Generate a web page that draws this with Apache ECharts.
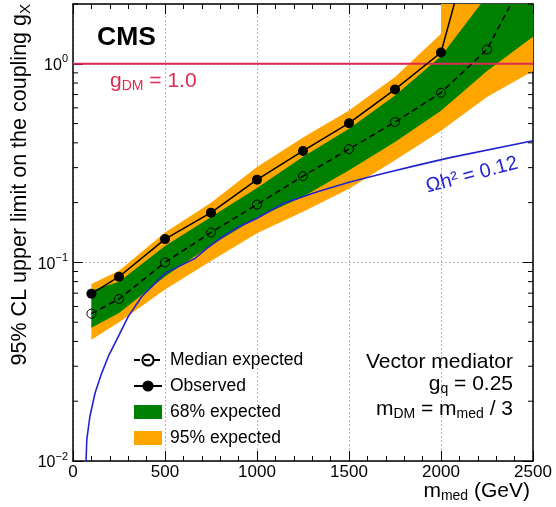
<!DOCTYPE html>
<html>
<head>
<meta charset="utf-8">
<script src="https://cdn.jsdelivr.net/npm/echarts@6/dist/echarts.min.js"></script>
<style>
  html, body { margin: 0; padding: 0; background: #fff; }
  #chart { width: 556px; height: 507px; }
</style>
</head>
<body>
<div id="chart"></div>
<script>
// ---------------- data ----------------
const massPoints      = [100, 250, 500, 750, 1000, 1250, 1500, 1750, 2000, 2250, 2500];
const medianExpected  = [0.0552, 0.0654, 0.100, 0.1415, 0.1955, 0.272, 0.372, 0.509, 0.715, 1.18, 3.25];
const observedMass    = [100, 250, 500, 750, 1000, 1250, 1500, 1750, 2000, 2250];
const observedLimit   = [0.0695, 0.0847, 0.131, 0.178, 0.261, 0.364, 0.502, 0.743, 1.14, 8.0];
const band68Up        = [0.0722, 0.080, 0.121, 0.1695, 0.237, 0.34, 0.471, 0.693, 1.09, 2.2, 4.5];
const band68Low       = [0.0469, 0.0556, 0.085, 0.122, 0.168, 0.214, 0.291, 0.404, 0.58, 0.92, 1.37];
const band95UpMass    = [100, 250, 500, 750, 1000, 1250, 1500, 1750, 2000, 2000, 2500];
const band95Up        = [0.0778, 0.0908, 0.1415, 0.1995, 0.302, 0.425, 0.582, 0.857, 1.415, 100, 100];
const band95Low       = [0.0408, 0.050, 0.0731, 0.1015, 0.14, 0.18, 0.235, 0.327, 0.46, 0.68, 0.92];
const relicMass       = [69, 75, 92, 120, 156, 192, 246, 300, 373, 428, 500, 536, 609, 663, 724, 815, 906, 996, 1143, 1324, 1505, 1686, 1868, 2049, 2500];
const relicCoupling   = [0.0090, 0.0128, 0.0168, 0.0220, 0.0277, 0.0336, 0.0423, 0.0533, 0.0671, 0.0754, 0.0881, 0.0915, 0.0989, 0.1047, 0.117, 0.135, 0.152, 0.166, 0.198, 0.226, 0.254, 0.280, 0.308, 0.337, 0.41];
const gDMValue        = 1.0;
const xTickValues     = [0, 500, 1000, 1500, 2000, 2500];
const yMinorTicks     = [0.02, 0.03, 0.04, 0.05, 0.06, 0.07, 0.08, 0.09, 0.2, 0.3, 0.4, 0.5, 0.6, 0.7, 0.8, 0.9, 2];

// ---------------- style ----------------
const FONT = 'Liberation Sans, Arial, Helvetica, sans-serif';
const C_GREEN = '#008000', C_ORANGE = '#ffa500', C_BLUE = '#2323d2', C_RED = '#de2a55';
const X_MIN = xTickValues[0], X_MAX = xTickValues[xTickValues.length - 1];
const Y_MIN = 0.01, Y_MAX = 2;

const zip = (xs, ys) => xs.map((x, i) => [x, ys[i]]);

function bandRender(upMass, up, lowMass, low, color) {
  return function (params, api) {
    const pts = [];
    for (let i = 0; i < upMass.length; i++) pts.push(api.coord([upMass[i], up[i]]));
    for (let i = lowMass.length - 1; i >= 0; i--) pts.push(api.coord([lowMass[i], low[i]]));
    return { type: 'polygon', shape: { points: pts }, style: { fill: color } };
  };
}

const xAxisBase = {
  type: 'value', min: X_MIN, max: X_MAX, interval: 500,
  axisLine: { show: true, onZero: false, lineStyle: { color: '#000', width: 1.5 } },
  axisTick: { show: true, inside: true, length: 10, lineStyle: { color: '#000', width: 1 } },
  minorTick: { show: true, splitNumber: 5, length: 5, lineStyle: { color: '#000', width: 1 } },
};
const yAxisBase = {
  type: 'log', logBase: 10, min: Y_MIN, max: Y_MAX,
  axisLine: { show: true, onZero: false, lineStyle: { color: '#000', width: 1.5 } },
  axisTick: { show: true, inside: true, length: 10, lineStyle: { color: '#000', width: 1 } },
};

const sub = (size, color) => ({
  a: { fontSize: size, fontFamily: FONT, fill: color, padding: [0, 0, 2, 0], verticalAlign: 'bottom' },
  s: { fontSize: Math.round(size * 0.68), fontFamily: FONT, fill: color, verticalAlign: 'bottom' },
});

const chart = echarts.init(document.getElementById('chart'), null, { renderer: 'canvas' });
chart.setOption({
  animation: false,
  backgroundColor: '#fff',
  grid: { left: 73, right: 23, top: 4, bottom: 46, containLabel: false },
  xAxis: [
    Object.assign({}, xAxisBase, {
      position: 'bottom',
      axisLabel: { show: true, fontSize: 17, color: '#000', fontFamily: FONT, margin: 3,
        formatter: function (v) { return String(v); } },
      splitLine: { show: true, lineStyle: { color: '#b8b8b8', type: [2, 2], width: 1 } },
    }),
    Object.assign({}, xAxisBase, {
      position: 'top',
      axisLabel: { show: false },
      splitLine: { show: false },
    }),
  ],
  yAxis: [
    Object.assign({}, yAxisBase, {
      position: 'left',
      axisLabel: {
        show: true, showMaxLabel: false, margin: 5, color: '#000',
        formatter: function (v) {
          const e = Math.round(Math.log10(v));
          return '{b|10}{s|' + (e < 0 ? '\u2212' + (-e) : String(e)) + '}';
        },
        rich: {
          b: { fontSize: 16, fontFamily: FONT, color: '#000', padding: [4, 0, 0, 0], verticalAlign: 'bottom' },
          s: { fontSize: 11, fontFamily: FONT, color: '#000', verticalAlign: 'top' },
        },
      },
      splitLine: { show: true, lineStyle: { color: '#b8b8b8', type: [2, 2], width: 1 } },
    }),
    Object.assign({}, yAxisBase, {
      position: 'right',
      axisLabel: { show: false },
      splitLine: { show: false },
    }),
  ],
  legend: {
    data: [
      { name: 'Median expected' },
      { name: 'Observed' },
      { name: '68% expected', icon: 'rect' },
      { name: '95% expected', icon: 'rect' },
    ],
    orient: 'vertical', left: 128, top: 346,
    itemWidth: 28, itemHeight: 14, itemGap: 8,
    selectedMode: false,
    textStyle: { fontSize: 17.5, color: '#000', fontFamily: FONT, padding: [0, 0, 0, 3], lineHeight: 18 },
  },
  series: [
    {
      name: '95% expected', type: 'custom', coordinateSystem: 'cartesian2d', clip: true, silent: true,
      itemStyle: { color: C_ORANGE }, z: 1,
      data: [[massPoints[0], band95Low[0]]],
      renderItem: bandRender(band95UpMass, band95Up, massPoints, band95Low, C_ORANGE),
    },
    {
      name: '68% expected', type: 'custom', coordinateSystem: 'cartesian2d', clip: true, silent: true,
      itemStyle: { color: C_GREEN }, z: 2,
      data: [[massPoints[0], band68Low[0]]],
      renderItem: bandRender(massPoints, band68Up, massPoints, band68Low, C_GREEN),
    },
    {
      name: 'relic', type: 'line', clip: true, silent: true, symbol: 'none', z: 3,
      lineStyle: { color: C_BLUE, width: 1.6 },
      data: zip(relicMass, relicCoupling),
    },
    {
      name: 'gDM', type: 'line', clip: true, silent: true, symbol: 'none', z: 3,
      lineStyle: { color: C_RED, width: 2 },
      data: [[X_MIN, gDMValue], [X_MAX, gDMValue]],
    },
    {
      name: 'Median expected', type: 'line', clip: true, silent: true, z: 4,
      symbol: 'circle', symbolSize: 9, showAllSymbol: true,
      lineStyle: { color: '#000', width: 1.5, type: [6, 4] },
      itemStyle: { color: 'rgba(0,0,0,0)', borderColor: '#000', borderWidth: 1 },
      data: zip(massPoints, medianExpected),
    },
    {
      name: 'Observed', type: 'line', clip: true, silent: true, z: 5,
      symbol: 'circle', symbolSize: 10, showAllSymbol: true,
      lineStyle: { color: '#000', width: 1.5 },
      itemStyle: { color: '#000' },
      data: zip(observedMass, observedLimit),
    },
    {
      name: 'minorTicks', type: 'custom', coordinateSystem: 'cartesian2d', silent: true, z: 6,
      data: yMinorTicks.map(v => [X_MIN, v]),
      renderItem: function (params, api) {
        const v = api.value(1);
        const l = api.coord([X_MIN, v]);
        const r = api.coord([X_MAX, v]);
        return {
          type: 'group',
          children: [
            { type: 'line', shape: { x1: l[0], y1: l[1], x2: l[0] + 5, y2: l[1] }, style: { stroke: '#000', lineWidth: 1 } },
            { type: 'line', shape: { x1: r[0] - 5, y1: r[1], x2: r[0], y2: r[1] }, style: { stroke: '#000', lineWidth: 1 } },
          ],
        };
      },
    },
  ],
  graphic: [
    { type: 'text', x: 97, y: 38, z: 100,
      style: { text: 'CMS', font: 'bold 26.5px ' + FONT, fill: '#000', align: 'left', verticalAlign: 'middle' } },
    { type: 'text', x: 110, y: 82, z: 100,
      style: { text: '{a|g}{s|DM}{a| = 1.0}', fill: C_RED, align: 'left', verticalAlign: 'middle', rich: sub(21, C_RED) } },
    { type: 'text', x: 472, y: 175, z: 100, rotation: Math.PI / 12,
      style: { text: '\u03A9h\u00B2 = 0.12', font: '20px ' + FONT, fill: C_BLUE, align: 'center', verticalAlign: 'middle' } },
    { type: 'text', x: 513, y: 362, z: 100,
      style: { text: 'Vector mediator', font: '21px ' + FONT, fill: '#000', align: 'right', verticalAlign: 'middle' } },
    { type: 'text', x: 513, y: 385, z: 100,
      style: { text: '{a|g}{s|q}{a| = 0.25}', fill: '#000', align: 'right', verticalAlign: 'middle', rich: sub(21, '#000') } },
    { type: 'text', x: 513, y: 410, z: 100,
      style: { text: '{a|m}{s|DM}{a| = m}{s|med}{a| / 3}', fill: '#000', align: 'right', verticalAlign: 'middle', rich: sub(21, '#000') } },
    { type: 'text', x: 530, y: 492, z: 100,
      style: { text: '{a|m}{s|med}{a| (GeV)}', fill: '#000', align: 'right', verticalAlign: 'middle', rich: sub(21, '#000') } },
    { type: 'text', x: 21, y: 4, z: 100, rotation: Math.PI / 2,
      style: { text: '{a|95% CL upper limit on the coupling g}{s|X}', fill: '#000', align: 'right', verticalAlign: 'middle', rich: sub(21.5, '#000') } },
  ],
});
</script>
</body>
</html>
